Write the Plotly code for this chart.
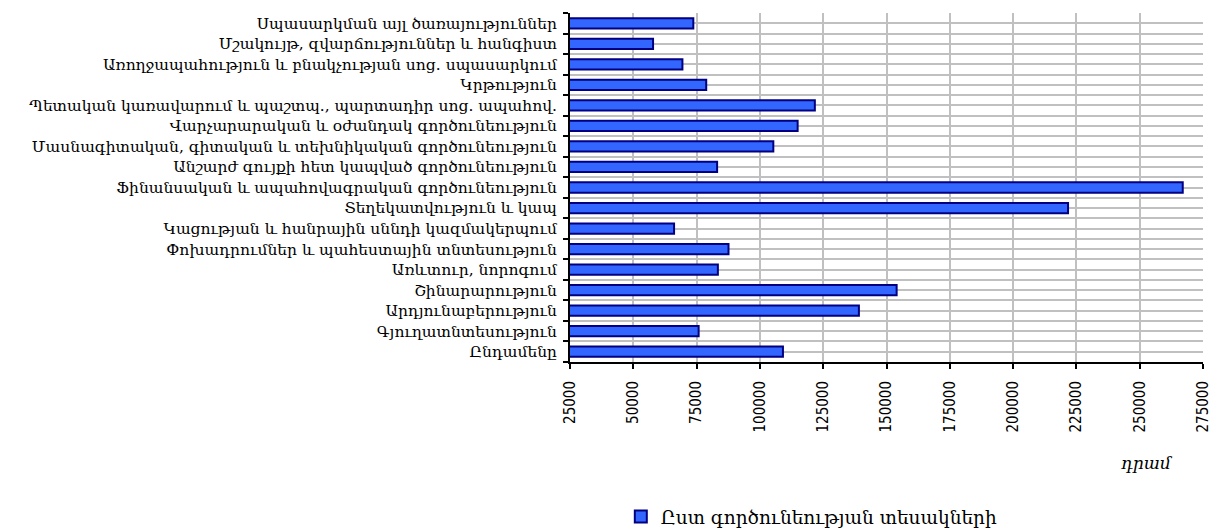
import plotly.graph_objects as go

# categories listed bottom -> top
categories = [
    "Ընդամենը",
    "Գյուղատնտեսություն",
    "Արդյունաբերություն",
    "Շինարարություն",
    "Առևտուր, նորոգում",
    "Փոխադրումներ և պահեստային տնտեսություն",
    "Կացության և հանրային սննդի կազմակերպում",
    "Տեղեկատվություն և կապ",
    "Ֆինանսական և ապահովագրական գործունեություն",
    "Անշարժ գույքի հետ կապված գործունեություն",
    "Մասնագիտական, գիտական և տեխնիկական գործունեություն",
    "Վարչարարական և օժանդակ գործունեություն",
    "Պետական կառավարում և պաշտպ., պարտադիր սոց. ապահով.",
    "Կրթություն",
    "Առողջապահություն և բնակչության սոց. սպասարկում",
    "Մշակույթ, զվարճություններ և հանգիստ",
    "Սպասարկման այլ ծառայություններ",
]
values = [109100, 75800, 139100, 154000, 83400, 87600, 66100, 221700, 267000,
          83100, 105300, 114900, 121700, 78800, 69400, 57800, 73700]
series_name = "Ըստ գործունեության տեսակների"
x_ticks = [25000, 50000, 75000, 100000, 125000, 150000, 175000, 200000, 225000, 250000, 275000]
x_unit = "դրամ"

positions = list(range(len(categories)))
boundaries = [p - 0.5 for p in positions] + [positions[-1] + 0.5]

fig = go.Figure()
fig.add_trace(go.Bar(
    y=positions, x=values, orientation="h", name=series_name,
    width=0.5,
    marker=dict(color="#3366FF", line=dict(color="#000080", width=2)),
    showlegend=True,
))

fig.update_layout(
    width=1218, height=528,
    margin=dict(l=570, r=15, t=13, b=166, autoexpand=False),
    paper_bgcolor="white", plot_bgcolor="white",
    showlegend=True,
    legend=dict(orientation="h", x=0.382, xanchor="center", xref="paper",
                y=0.021, yanchor="middle", yref="container",
                font=dict(family="DejaVu Serif", size=18.5, color="black"),
                itemwidth=30),
    xaxis=dict(range=[25000, 275000], tickvals=x_ticks, ticktext=[str(v) for v in x_ticks],
               tickangle=-90, tickfont=dict(family="DejaVu Sans Condensed", size=15, color="black"),
               showgrid=True, gridcolor="#C0C0C0", gridwidth=2,
               showline=True, linecolor="black", linewidth=2,
               ticks="outside", ticklen=5, tickcolor="black", tickwidth=2,
               ticklabelstandoff=6, zeroline=False, automargin=False),
    yaxis=dict(range=[-0.5, len(categories) - 0.5], tickvals=positions, ticktext=categories,
               tickfont=dict(family="DejaVu Serif", size=15.5, color="black"),
               showgrid=True, gridcolor="#C0C0C0", gridwidth=2,
               showline=True, linecolor="black", linewidth=2,
               ticks="", zeroline=False, ticklabelstandoff=8, automargin=False,
               minor=dict(tickvals=boundaries, showgrid=True, gridcolor="#C0C0C0", gridwidth=2,
                          ticks="outside", ticklen=5, tickcolor="black", tickwidth=2)),
    annotations=[dict(text=x_unit, xref="paper", yref="paper", x=0.912, y=-0.289,
                      xanchor="center", yanchor="middle", showarrow=False,
                      font=dict(family="DejaVu Serif", size=17, color="black", style="italic"))],
)

fig.write_html("out.html", config={"displayModeBar": False},
               post_script="document.body.style.margin='0px';")
